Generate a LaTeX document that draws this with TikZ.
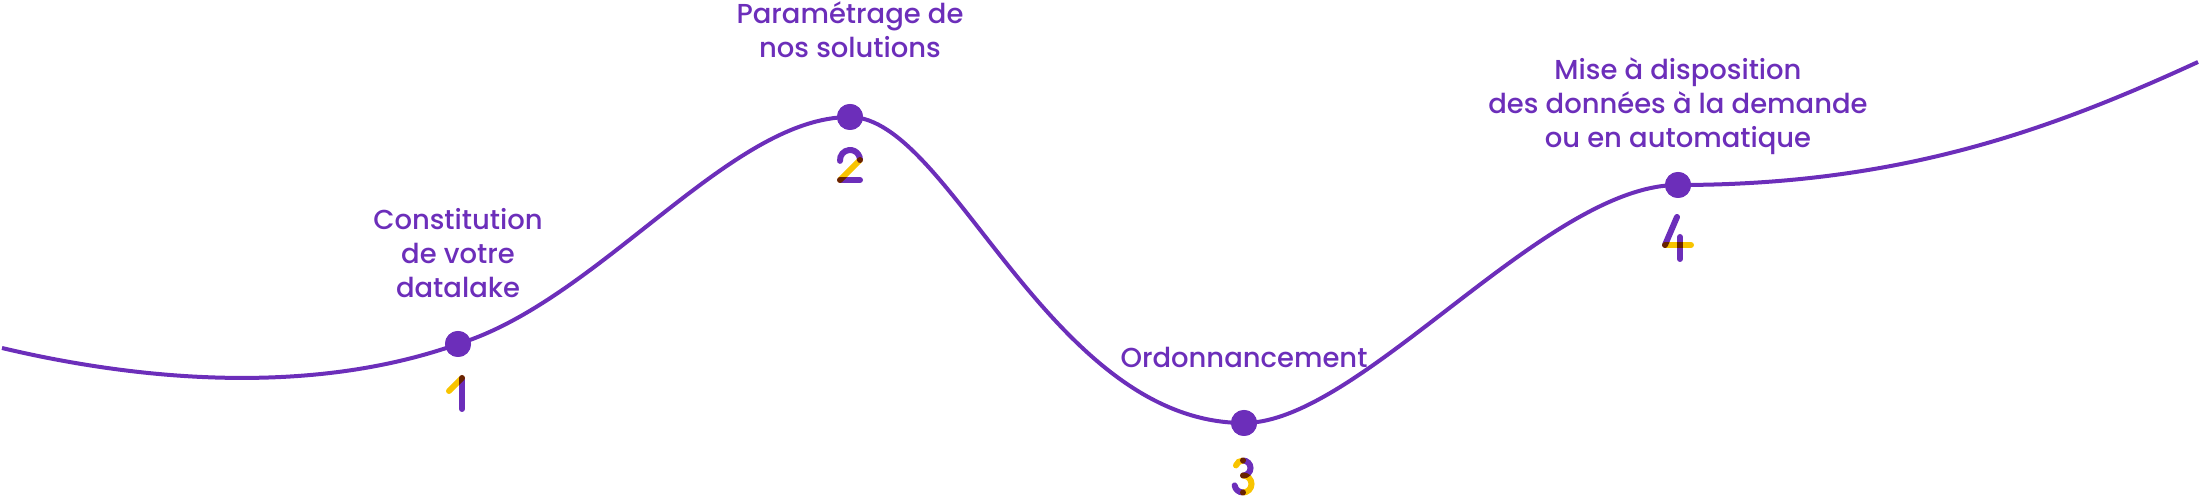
\documentclass[tikz,border=0pt]{standalone}
\usepackage{fontspec}
\newfontfamily\etapefont{Poppins Medium}
\usepackage{xcolor}
\definecolor{mauve}{RGB}{108,46,186}
\definecolor{jaune}{RGB}{248,196,0}
\usepackage{tikz}
\usetikzlibrary{calc}
\tikzset{
    courbe/.style={draw=mauve, line width=1.4pt},
    jalon/.style={circle, fill=mauve, minimum size=9.1pt, inner sep=0pt},
    etape/.style={text=mauve, align=center, inner sep=0pt,
        font=\etapefont\fontsize{9.6}{11.9}\selectfont},
    trait/.style={line width=2.1pt, line cap=round},
}
\begin{document}
\begin{tikzpicture}
    [x=0.35pt, y=-0.35pt]
    \useasboundingbox (0,0) rectangle (2200,497);
    % milestones
    \node[jalon] (d1) at (458,344) {};
    \node[jalon] (d2) at (850,117) {};
    \node[jalon] (d3) at (1244,423) {};
    \node[jalon] (d4) at (1678,185) {};
    \coordinate (debut) at (2,348);
    \coordinate (fin) at (2198,62);
    % the path
    \draw[courbe]
        (debut) .. controls (120,376) and (300,400) ..
        (d1.center) .. controls (600,300) and (730,117) ..
        (d2.center) .. controls (950,117) and (1050,423) ..
        (d3.center) .. controls (1360,423) and (1545,185) ..
        (d4.center) .. controls (1900,185) and (2050,130) ..
        (fin);
    \foreach \d in {d1,d2,d3,d4}
        \node[jalon] at (\d) {};
    % digits
    \begin{scope}[blend mode=multiply]
        % 1
        \draw[trait, mauve] (462,378)--(462,409);
        \draw[trait, jaune] (449,391)--(462,378);
        % 2
        \draw[trait, mauve, shift={(850,160)}]
            (175:10) arc[start angle=175, end angle=360, radius=10];
        \draw[trait, mauve] (840,180)--(860,180);
        \draw[trait, jaune] (860,160)--(840,180);
        % 3
        \draw[trait, jaune, shift={(1243,468)}]
            (200:7.5) arc[start angle=200, end angle=270, radius=7.5];
        \draw[trait, mauve, shift={(1243,468)}]
            (270:7.5) arc[start angle=270, end angle=450, radius=7.5];
        \draw[trait, jaune, shift={(1243,484)}]
            (270:8.5) arc[start angle=270, end angle=450, radius=8.5];
        \draw[trait, mauve, shift={(1243,484)}]
            (90:8.5) arc[start angle=90, end angle=170, radius=8.5];
        % 4
        \draw[trait, mauve] (1677,217)--(1665,245);
        \draw[trait, mauve] (1680,237)--(1680,259);
        \draw[trait, jaune] (1665,245)--(1691,245);
    \end{scope}
    % text
    \node[etape] (t1) at (458,253) {Constitution\\de votre\\datalake};
    \node[etape] (t2) at (850,30) {Paramétrage de\\nos solutions};
    \node[etape] (t3) at (1244,357) {Ordonnancement};
    \node[etape] (t4) at (1678,106) {Mise à disposition\\des données à la demande\\ou en automatique};
\end{tikzpicture}
\end{document}
